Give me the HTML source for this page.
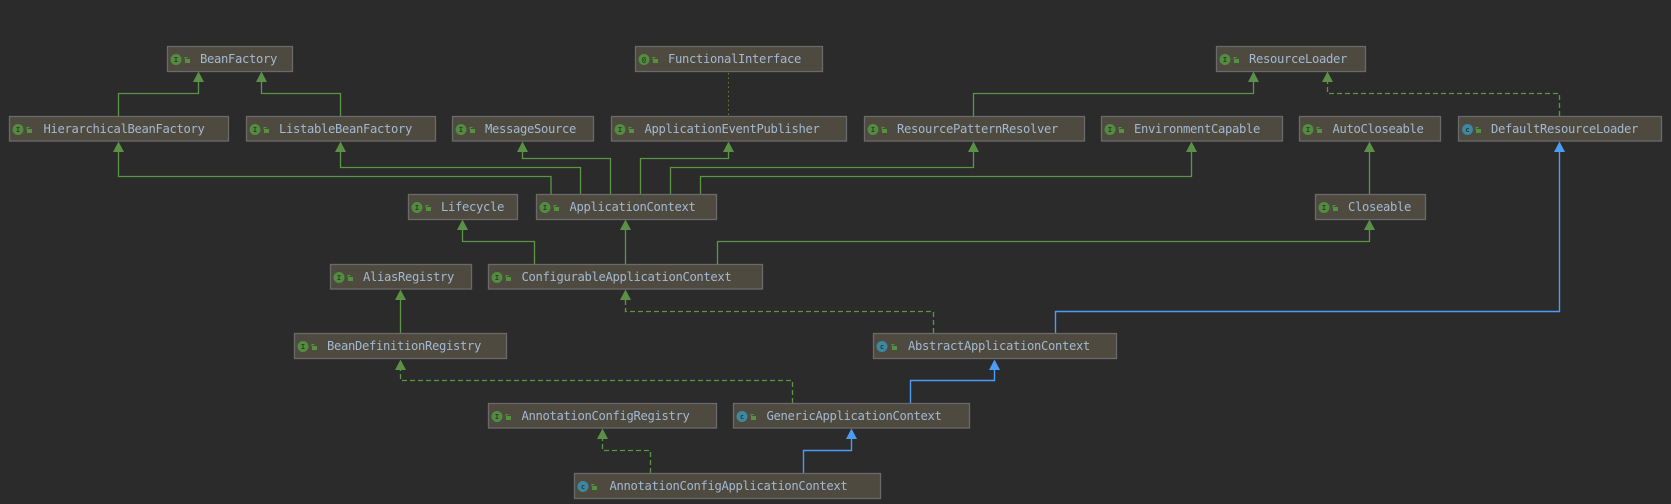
<!DOCTYPE html>
<html>
<head>
<meta charset="utf-8">
<style>
html,body{margin:0;padding:0;background:#2b2b2b;width:1671px;height:504px;overflow:hidden}
svg{display:block;filter:blur(.3px)}
.b{fill:#4e4a3f;stroke:#6a6a6a;stroke-width:1.3}
.t{font-family:"DejaVu Sans Mono","Liberation Mono",monospace;font-size:12.2px;letter-spacing:-.34px;fill:#a3b8d2}
.g{fill:none;stroke:#5a9646;stroke-width:1.3}
.d{fill:none;stroke:#5a9646;stroke-width:1.3;stroke-dasharray:5 3}
.u{fill:none;stroke:#4c9bf5;stroke-width:1.4}
.ga{fill:#5a9146}
.ua{fill:#4c9bf5}
.ci{fill:#528d3f}
.cc{fill:#3c87a3}
.l{font-family:"DejaVu Sans Mono","Liberation Mono",monospace;font-size:7px;font-weight:bold;fill:#2e3a28;text-anchor:middle}
.lk{fill:#54923f}
</style>
</head>
<body>
<svg width="1671" height="504" viewBox="0 0 1671 504" xmlns="http://www.w3.org/2000/svg">
<defs>
<g id="lock"><rect x="0" y="2" width="5" height="4" class="lk"/><path d="M0 2.5V0.5H2.5" fill="none" stroke="#54923f" stroke-width="1"/></g>
</defs>

<!-- connectors -->
<path class="g" d="M118.5 116V93.5H198.5V80"/>
<path class="g" d="M340.5 116V93.5H261.5V80"/>
<path d="M728.5 73V115" fill="none" stroke="#6f7a2a" stroke-width="1" stroke-dasharray="1.5 3"/>
<path class="g" d="M973.5 116V93.5H1253.5V80"/>
<path class="d" d="M1559.5 116V93.5H1327.5V80"/>
<path class="g" d="M118.5 150V176.5H551V194"/>
<path class="g" d="M340.5 150V167.5H580.5V194"/>
<path class="g" d="M522.5 150V158.5H610.5V194"/>
<path class="g" d="M728.5 150V158.5H640.5V194"/>
<path class="g" d="M973.5 150V167.5H670.5V194"/>
<path class="g" d="M1191.5 150V176.5H700.5V194"/>
<path class="g" d="M534.5 264V241.5H462.5V228"/>
<path class="g" d="M625.5 264V228"/>
<path class="g" d="M717.5 264V241.5H1369.5V228"/>
<path class="g" d="M1369.5 194V150"/>
<path class="u" d="M1055.5 333V311.5H1559.5V150"/>
<path class="d" d="M933.5 333V311.5H625.5V298"/>
<path class="g" d="M400.5 333V298"/>
<path class="d" d="M792.5 403V380.5H400.5V368"/>
<path class="u" d="M910.5 403V380.5H994.5V368"/>
<path class="u" d="M803.5 473V450.5H851.5V437"/>
<path class="d" d="M650.5 473V450.5H602.5V437"/>

<!-- arrowheads -->
<g class="ga">
<polygon points="198.5,71.5 193,82 204,82"/>
<polygon points="261.5,71.5 256,82 267,82"/>
<polygon points="1253.5,71.5 1248,82 1259,82"/>
<polygon points="1327.5,71.5 1322,82 1333,82"/>
<polygon points="118.5,141.5 113,152 124,152"/>
<polygon points="340.5,141.5 335,152 346,152"/>
<polygon points="522.5,141.5 517,152 528,152"/>
<polygon points="728.5,141.5 723,152 734,152"/>
<polygon points="973.5,141.5 968,152 979,152"/>
<polygon points="1191.5,141.5 1186,152 1197,152"/>
<polygon points="1369.5,141.5 1364,152 1375,152"/>
<polygon points="462.5,219.5 457,230 468,230"/>
<polygon points="625.5,219.5 620,230 631,230"/>
<polygon points="1369.5,219.5 1364,230 1375,230"/>
<polygon points="400.5,289.5 395,300 406,300"/>
<polygon points="625.5,289.5 620,300 631,300"/>
<polygon points="400.5,359.5 395,370 406,370"/>
<polygon points="602.5,428.5 597,439 608,439"/>
</g>
<g class="ua">
<polygon points="1559.5,141.5 1554,152 1565,152"/>
<polygon points="994.5,359.5 989,370 1000,370"/>
<polygon points="851.5,428.5 846,439 857,439"/>
</g>

<!-- nodes -->
<rect class="b" x="167.5" y="46.5" width="125" height="25"/><circle class="ci" cx="176" cy="59.5" r="5.5"/><text class="l" x="176" y="62">I</text><use href="#lock" x="185" y="57"/><text class="t" x="200" y="63">BeanFactory</text>
<rect class="b" x="635.5" y="46.5" width="187" height="25"/><circle class="ci" cx="644" cy="59.5" r="5.5"/><text class="l" x="644" y="62">@</text><use href="#lock" x="653" y="57"/><text class="t" x="668" y="63">FunctionalInterface</text>
<rect class="b" x="1216.5" y="46.5" width="149" height="25"/><circle class="ci" cx="1225" cy="59.5" r="5.5"/><text class="l" x="1225" y="62">I</text><use href="#lock" x="1234" y="57"/><text class="t" x="1249" y="63">ResourceLoader</text>

<rect class="b" x="9.5" y="116.5" width="219" height="24.5"/><circle class="ci" cx="18" cy="129.5" r="5.5"/><text class="l" x="18" y="132">I</text><use href="#lock" x="27" y="127"/><text class="t" x="43.5" y="133">HierarchicalBeanFactory</text>
<rect class="b" x="246.5" y="116.5" width="189" height="24.5"/><circle class="ci" cx="255" cy="129.5" r="5.5"/><text class="l" x="255" y="132">I</text><use href="#lock" x="264" y="127"/><text class="t" x="279" y="133">ListableBeanFactory</text>
<rect class="b" x="452.5" y="116.5" width="141" height="24.5"/><circle class="ci" cx="461" cy="129.5" r="5.5"/><text class="l" x="461" y="132">I</text><use href="#lock" x="470" y="127"/><text class="t" x="485" y="133">MessageSource</text>
<rect class="b" x="611.5" y="116.5" width="235" height="24.5"/><circle class="ci" cx="620" cy="129.5" r="5.5"/><text class="l" x="620" y="132">I</text><use href="#lock" x="629" y="127"/><text class="t" x="644.5" y="133">ApplicationEventPublisher</text>
<rect class="b" x="864.5" y="116.5" width="220" height="24.5"/><circle class="ci" cx="873" cy="129.5" r="5.5"/><text class="l" x="873" y="132">I</text><use href="#lock" x="882" y="127"/><text class="t" x="897" y="133">ResourcePatternResolver</text>
<rect class="b" x="1101.5" y="116.5" width="181" height="24.5"/><circle class="ci" cx="1110" cy="129.5" r="5.5"/><text class="l" x="1110" y="132">I</text><use href="#lock" x="1119" y="127"/><text class="t" x="1134" y="133">EnvironmentCapable</text>
<rect class="b" x="1299.5" y="116.5" width="141" height="24.5"/><circle class="ci" cx="1308" cy="129.5" r="5.5"/><text class="l" x="1308" y="132">I</text><use href="#lock" x="1317" y="127"/><text class="t" x="1332.5" y="133">AutoCloseable</text>
<rect class="b" x="1458.5" y="116.5" width="203" height="24.5"/><circle class="cc" cx="1467.5" cy="129.5" r="5.5"/><text class="l" x="1467.5" y="132">c</text><use href="#lock" x="1476" y="127"/><text class="t" x="1491" y="133">DefaultResourceLoader</text>

<rect class="b" x="408.5" y="194.5" width="109" height="25"/><circle class="ci" cx="417" cy="207.5" r="5.5"/><text class="l" x="417" y="210">I</text><use href="#lock" x="426" y="205"/><text class="t" x="441" y="211">Lifecycle</text>
<rect class="b" x="536.5" y="194.5" width="180" height="25"/><circle class="ci" cx="545" cy="207.5" r="5.5"/><text class="l" x="545" y="210">I</text><use href="#lock" x="554" y="205"/><text class="t" x="569.5" y="211">ApplicationContext</text>
<rect class="b" x="1315.5" y="194.5" width="110" height="25"/><circle class="ci" cx="1324" cy="207.5" r="5.5"/><text class="l" x="1324" y="210">I</text><use href="#lock" x="1333" y="205"/><text class="t" x="1348" y="211">Closeable</text>

<rect class="b" x="330.5" y="264.5" width="141" height="24.5"/><circle class="ci" cx="339" cy="277.5" r="5.5"/><text class="l" x="339" y="280">I</text><use href="#lock" x="348" y="275"/><text class="t" x="363" y="281">AliasRegistry</text>
<rect class="b" x="488.5" y="264.5" width="274" height="24.5"/><circle class="ci" cx="497" cy="277.5" r="5.5"/><text class="l" x="497" y="280">I</text><use href="#lock" x="506" y="275"/><text class="t" x="521.5" y="281">ConfigurableApplicationContext</text>

<rect class="b" x="294.5" y="333.5" width="212" height="25"/><circle class="ci" cx="303" cy="346.5" r="5.5"/><text class="l" x="303" y="349">I</text><use href="#lock" x="312" y="344"/><text class="t" x="327" y="350">BeanDefinitionRegistry</text>
<rect class="b" x="873.5" y="333.5" width="243" height="25"/><circle class="cc" cx="882" cy="346.5" r="5.5"/><text class="l" x="882" y="349">c</text><use href="#lock" x="892" y="344"/><text class="t" x="908" y="350">AbstractApplicationContext</text>

<rect class="b" x="488.5" y="403.5" width="228" height="24.5"/><circle class="ci" cx="497" cy="416.5" r="5.5"/><text class="l" x="497" y="419">I</text><use href="#lock" x="506" y="414"/><text class="t" x="521.5" y="420">AnnotationConfigRegistry</text>
<rect class="b" x="733.5" y="403.5" width="236" height="24.5"/><circle class="cc" cx="742" cy="416.5" r="5.5"/><text class="l" x="742" y="419">c</text><use href="#lock" x="751" y="414"/><text class="t" x="766.5" y="420">GenericApplicationContext</text>

<rect class="b" x="574.5" y="473.5" width="306" height="25"/><circle class="cc" cx="583" cy="486.5" r="5.5"/><text class="l" x="583" y="489">c</text><use href="#lock" x="592" y="484"/><text class="t" x="609.5" y="490">AnnotationConfigApplicationContext</text>
</svg>
</body>
</html>
